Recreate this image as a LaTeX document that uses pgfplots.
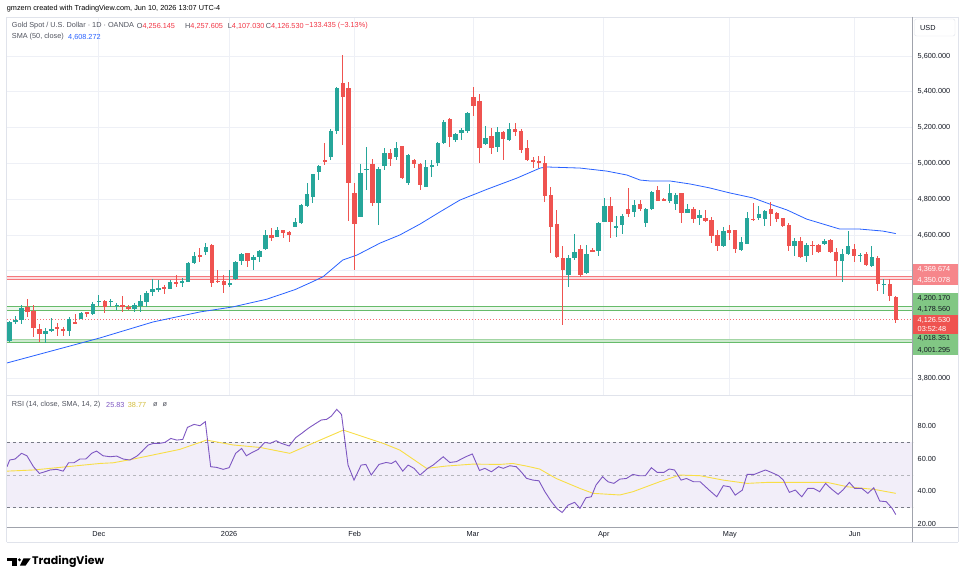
\documentclass[border=0pt]{standalone}
\usepackage{fontspec}
\setmainfont{Liberation Sans}
\newfontfamily\logofont{Poppins}
\usepackage{pgfplots}
\usepackage{pgfplotstable}
\usepgfplotslibrary{fillbetween}
\pgfplotsset{compat=1.18}

\definecolor{tvup}{RGB}{38,166,154}
\definecolor{tvdown}{RGB}{239,83,80}
\definecolor{tvred}{RGB}{242,54,69}
\definecolor{smablue}{RGB}{41,98,255}
\definecolor{rsipurple}{RGB}{126,87,194}
\definecolor{rsiyellow}{RGB}{248,222,70}
\definecolor{rsiband}{RGB}{242,238,249}
\definecolor{rsidash}{RGB}{120,123,134}
\definecolor{tvgrid}{RGB}{238,240,246}
\definecolor{tvframe}{RGB}{224,227,235}
\definecolor{tvaxis}{RGB}{160,163,172}
\definecolor{tvtext}{RGB}{19,23,34}
\definecolor{tvlegend}{RGB}{80,83,94}
\definecolor{hlred}{RGB}{245,120,125}
\definecolor{redfill}{RGB}{252,222,224}
\definecolor{hlgreen}{RGB}{102,187,106}
\definecolor{greenfill}{RGB}{205,233,206}
\definecolor{pinkbox}{RGB}{246,134,139}
\definecolor{greenbox}{RGB}{129,199,132}
\definecolor{obgreen}{RGB}{76,175,80}
\definecolor{dotred}{RGB}{246,110,118}

\newcommand\tvf{\fontsize{7.3bp}{9bp}\selectfont}

\pgfplotstableread{
i O H L C
0 4005 4118 4000 4112
1 4114 4145 4103 4125
2 4125 4209 4103 4192
6 4047 4082 3998 4064
7 4065 4136 4058 4076
10 4065 4142 4036 4132
12 4132 4172 4130 4164
14 4156 4224 4153 4214
15 4224 4264 4203 4233
17 4228 4242 4196 4231
18 4205 4222 4180 4210
21 4187 4222 4171 4209
22 4205 4264 4170 4231
23 4228 4287 4200 4278
24 4280 4354 4259 4298
25 4298 4346 4282 4302
27 4300 4347 4297 4337
29 4335 4358 4308 4342
30 4340 4451 4337 4446
31 4446 4503 4436 4483
33 4504 4553 4488 4535
37 4323 4404 4308 4332
38 4354 4457 4349 4449
39 4456 4501 4432 4494
41 4462 4488 4404 4477
42 4475 4516 4451 4511
43 4522 4628 4516 4598
45 4590 4646 4587 4628
48 4646 4697 4646 4672
49 4665 4775 4660 4765
50 4762 4892 4755 4830
51 4814 4941 4777 4939
52 4954 4990 4908 4987
54 5036 5190 5019 5181
55 5183 5428 5164 5421
59 4702 4995 4699 4948
60 4962 5093 4851 4970
62 4777 4978 4656 4967
63 4985 5087 4962 5056
65 5037 5120 5020 5084
67 4889 5050 4880 5045
70 4870 5019 4866 4982
71 4979 5017 4926 4991
72 5000 5121 4985 5112
73 5115 5240 5110 5230
75 5131 5170 5120 5164
76 5172 5200 5130 5187
77 5183 5285 5170 5283
80 5107 5209 5103 5141
82 5093 5205 5065 5177
84 5131 5223 5125 5192
94 4376 4490 4311 4473
95 4473 4606 4460 4503
97 4386 4546 4380 4494
99 4512 4675 4483 4669
100 4675 4807 4670 4762
102 4640 4705 4590 4653
103 4656 4715 4606 4706
105 4727 4795 4702 4767
107 4669 4749 4646 4744
108 4744 4847 4740 4842
111 4792 4887 4780 4833
112 4773 4833 4740 4823
114 4725 4773 4721 4744
116 4697 4740 4656 4711
120 4540 4646 4535 4622
123 4516 4590 4512 4559
124 4550 4727 4548 4693
126 4695 4761 4684 4717
127 4688 4740 4650 4734
132 4540 4585 4483 4566
134 4483 4553 4451 4544
137 4550 4575 4545 4568
140 4455 4520 4340 4494
141 4494 4620 4490 4540
143 4483 4501 4451 4488
145 4427 4540 4420 4475
147 4321 4352 4269 4326
}\uptab

\pgfplotstableread{
i O H L C
3 4200 4242 4143 4172
4 4175 4209 4032 4082
5 4075 4103 4004 4047
8 4088 4108 4036 4076
9 4075 4088 4036 4062
11 4114 4157 4103 4105
13 4167 4170 4142 4156
16 4231 4237 4166 4200
19 4209 4259 4170 4195
20 4200 4207 4181 4189
26 4307 4320 4272 4300
28 4340 4378 4308 4328
32 4486 4526 4451 4478
34 4544 4550 4308 4330
35 4345 4404 4330 4337
36 4345 4375 4278 4320
40 4500 4501 4423 4457
44 4598 4637 4568 4585
46 4628 4628 4581 4613
47 4618 4620 4562 4598
53 5017 5112 4991 5012
56 5449 5605 5103 5373
57 5421 5455 4680 4892
58 4833 4890 4404 4660
61 4997 5026 4764 4780
64 5060 5079 4985 5025
66 5097 5100 4912 4920
68 5019 5025 4973 4995
69 4997 5005 4851 4879
74 5248 5252 5093 5146
78 5369 5425 5265 5322
79 5349 5388 5000 5088
81 5153 5196 5052 5084
83 5177 5180 5020 5136
85 5192 5228 5153 5177
86 5183 5190 5060 5075
87 5084 5131 5015 5019
88 5017 5037 4973 5008
89 5013 5040 4973 5008
90 5004 5042 4786 4820
91 4823 4870 4501 4646
92 4661 4740 4470 4479
93 4473 4538 4097 4404
96 4521 4545 4367 4376
98 4515 4525 4505 4510
101 4762 4815 4584 4675
104 4744 4861 4702 4717
106 4773 4795 4734 4745
109 4851 4875 4788 4792
110 4801 4805 4788 4792
113 4833 4833 4669 4721
115 4744 4758 4665 4691
117 4697 4740 4675 4678
118 4684 4700 4553 4594
119 4598 4628 4512 4540
121 4628 4656 4573 4613
122 4628 4628 4501 4522
125 4690 4779 4680 4684
128 4744 4785 4650 4716
129 4725 4727 4674 4688
130 4693 4697 4645 4652
131 4656 4665 4512 4540
133 4566 4590 4470 4479
135 4544 4566 4488 4540
136 4544 4550 4500 4507
138 4572 4578 4500 4507
139 4507 4525 4371 4455
142 4522 4550 4451 4483
144 4494 4505 4425 4432
146 4473 4480 4286 4326
148 4326 4352 4232 4259
149 4256.145 4257.605 4107.03 4126.53
}\dntab

\begin{document}
\begin{tikzpicture}
\fill[white] (0bp,0bp) rectangle (964bp,582bp);

% ---------------- main price panel ----------------
\begin{axis}[
  at={(7bp,187bp)}, anchor=south west,
  width=906bp, height=378bp, scale only axis,
  xmin=-0.45, xmax=151.9, ymin=3706, ymax=5818,
  axis line style={draw=none},
  tick style={draw=none},
  xtick={15,36.9,58,77.9,99.9,121.1,142.1},
  xticklabels={,,,,,,},
  ytick={3800,4000,4200,4400,4600,4800,5000,5200,5400,5600},
  yticklabels={{3,800.000},{},{},{},{4,600.000},{4,800.000},{5,000.000},{5,200.000},{5,400.000},{5,600.000}},
  yticklabel pos=right,
  yticklabel style={anchor=west, inner sep=0pt, xshift=4.5bp, font=\tvf, text=tvtext},
  grid=major, grid style={draw=tvgrid, line width=0.8bp},
]
% horizontal level bands
\addplot[draw=none, fill=redfill] coordinates {(-0.45,4350.078) (151.9,4350.078) (151.9,4369.674) (-0.45,4369.674)};
\addplot[draw=none, fill=greenfill, fill opacity=0.35] coordinates {(-0.45,4178.56) (151.9,4178.56) (151.9,4200.17) (-0.45,4200.17)};
\addplot[draw=none, fill=greenfill] coordinates {(-0.45,4001.295) (151.9,4001.295) (151.9,4018.351) (-0.45,4018.351)};
\addplot[hlred, line width=1bp] coordinates {(-0.45,4369.674) (151.9,4369.674)};
\addplot[hlred, line width=1bp] coordinates {(-0.45,4350.078) (151.9,4350.078)};
\addplot[hlgreen, line width=1bp] coordinates {(-0.45,4200.17) (151.9,4200.17)};
\addplot[hlgreen, line width=1bp] coordinates {(-0.45,4178.56) (151.9,4178.56)};
\addplot[hlgreen!60, line width=1bp] coordinates {(-0.45,4018.351) (151.9,4018.351)};
\addplot[hlgreen, line width=1bp] coordinates {(-0.45,4001.295) (151.9,4001.295)};
\addplot[dotred, line width=0.9bp, dash pattern=on 1.3bp off 1.7bp] coordinates {(-0.45,4126.53) (151.9,4126.53)};
% SMA 50
\addplot[smablue, line width=0.8bp] coordinates {
(-0.45,3885) (15.2,4025) (24.1,4114) (32.0,4170) (37.5,4198) (43.2,4241) (48,4295) (51,4340) (52.7,4367)
(56.0,4460) (58.4,4488) (62.3,4555) (65.6,4600) (69.0,4661) (72.3,4728) (75.7,4795) (80.4,4857)
(85.3,4918) (89.2,4974) (90.3,4980) (95.9,4974) (100.4,4957) (103.8,4935) (106.0,4907) (107.6,4902)
(111.0,4902) (114.4,4885) (117.7,4863) (121.1,4835) (125,4807) (127.8,4773) (130.7,4740) (134.0,4689)
(136.2,4667) (139.6,4633) (143,4633) (146.8,4622) (149,4608)};
% wicks
\addplot[draw=none, mark=none, error bars/.cd, y dir=both, y explicit, error mark=none,
  error bar style={draw=tvup, line width=1bp, solid}]
  table[x=i, y expr={(\thisrow{H}+\thisrow{L})/2}, y error expr={(\thisrow{H}-\thisrow{L})/2}] {\uptab};
\addplot[draw=none, mark=none, error bars/.cd, y dir=both, y explicit, error mark=none,
  error bar style={draw=tvdown, line width=1bp, solid}]
  table[x=i, y expr={(\thisrow{H}+\thisrow{L})/2}, y error expr={(\thisrow{H}-\thisrow{L})/2}] {\dntab};
% bodies
\addplot[draw=none, mark=none, error bars/.cd, y dir=both, y explicit, error mark=none,
  error bar style={draw=tvup, line width=4.4bp, solid}]
  table[x=i, y expr={(\thisrow{O}+\thisrow{C})/2}, y error expr={max(abs(\thisrow{C}-\thisrow{O})/2,2.8)}] {\uptab};
\addplot[draw=none, mark=none, error bars/.cd, y dir=both, y explicit, error mark=none,
  error bar style={draw=tvdown, line width=4.4bp, solid}]
  table[x=i, y expr={(\thisrow{O}+\thisrow{C})/2}, y error expr={max(abs(\thisrow{C}-\thisrow{O})/2,2.8)}] {\dntab};
\end{axis}

% ---------------- RSI panel ----------------
\begin{axis}[
  at={(7bp,55bp)}, anchor=south west,
  width=906bp, height=132bp, scale only axis,
  xmin=-0.45, xmax=151.9, ymin=18.2, ymax=99,
  axis line style={draw=none},
  tick style={draw=none},
  xtick={15,36.9,58,77.9,99.9,121.1,142.1},
  xticklabels={Dec,2026,Feb,Mar,Apr,May,Jun},
  xticklabel style={anchor=north, inner sep=0pt, yshift=-4.5bp, font=\tvf, text=tvtext},
  ytick={20,40,60,80},
  yticklabels={20.00,40.00,60.00,80.00},
  yticklabel pos=right,
  yticklabel style={anchor=west, inner sep=0pt, xshift=4.5bp, font=\tvf, text=tvtext},
  grid=major, grid style={draw=tvgrid, line width=0.8bp},
]
\addplot[draw=none, fill=rsiband] coordinates {(-0.45,30) (151.9,30) (151.9,70) (-0.45,70)};
\addplot[rsidash, line width=0.8bp, dash pattern=on 3bp off 3bp] coordinates {(-0.45,70) (151.9,70)};
\addplot[rsidash, line width=0.8bp, dash pattern=on 3bp off 3bp] coordinates {(-0.45,30) (151.9,30)};
\addplot[rsidash!55, line width=0.8bp, dash pattern=on 3bp off 3bp] coordinates {(-0.45,50) (151.9,50)};
\addplot[draw=none, name path=r70] coordinates {(-0.45,70) (151.9,70)};
\addplot[draw=none, name path=rsi] coordinates {
(-0.45,55.1) (0,59.2) (0.9,59.8) (2.0,63.3) (2.9,61.8) (4.0,55.1) (5.0,51.0) (5.9,52.0) (6.8,53.1) (7.9,53.5)
(9.0,52.4) (9.9,57.5) (10.8,57.5) (11.8,59.8) (12.8,59.8) (13.8,63.3) (14.6,64.7) (15.7,61.8) (16.9,61.2)
(18.0,61.6) (19.1,59.8) (20.2,59.2) (21.4,61.6) (22.2,64.3) (23.3,68.4) (24.2,69.4) (25.2,69.4) (26.1,70.0)
(27.1,72.4) (28.1,71.4) (29.1,71.8) (29.9,79.2) (31.0,81.0) (32.0,80.2) (32.9,82.7) (33.8,55.1) (34.8,54.7)
(35.9,53.5) (36.9,54.5) (38.0,63.3) (39.0,66.3) (39.8,61.8) (40.8,63.9) (41.8,65.7) (42.9,70.0) (43.8,69.4)
(44.8,71.0) (45.7,69.4) (47.0,67.8) (48.1,72.9) (49.1,75.5) (50.2,78.6) (51.3,81.2) (52.4,83.7) (53.3,84.1)
(54.1,86.1) (55.0,90.2) (55.8,87.1) (56.9,56.1) (57.9,46.9) (59.1,56.1) (59.9,56.5) (60.8,50.0) (62.1,56.5)
(63.3,57.7) (64.2,57.1) (64.9,58.6) (66.1,52.4) (67.0,56.1) (68.0,54.1) (69.0,50.0) (70.3,54.1) (71.2,56.1)
(72.9,61.2) (74.0,57.7) (75.1,58.2) (76.7,61.2) (77.8,62.9) (79.0,52.8) (79.9,54.1) (81.0,52.0) (82.2,55.1)
(83.0,54.1) (84.1,55.7) (85.2,55.1) (86.1,51.6) (86.9,48.0) (88.0,46.9) (89.0,46.5) (90.0,39.8) (91.1,33.7)
(92.1,29.2) (92.9,27.1) (93.9,31.6) (95.0,33.3) (95.9,29.6) (96.9,36.1) (97.8,36.7) (98.6,43.9) (99.7,49.0)
(100.6,45.9) (101.6,44.9) (102.6,47.5) (103.7,47.9) (104.8,50.4) (105.8,49.6) (106.9,49.6) (107.9,54.5)
(108.9,51.6) (110.0,51.6) (110.9,53.7) (111.8,53.1) (112.9,46.9) (113.8,47.9) (115.0,45.9) (116.1,45.9)
(117.8,40.2) (118.9,36.7) (120.0,43.5) (121.1,42.8) (122.0,37.7) (123.2,40.8) (124.0,50.4) (125.2,50.4)
(126.3,52.0) (127.1,53.1) (128.1,51.6) (129.3,49.6) (130.1,46.9) (131.1,39.4) (132.1,40.8) (133.2,36.7)
(134.2,41.8) (135.2,41.8) (136.2,39.8) (137.2,44.9) (138.2,41.4) (139.3,38.2) (140.1,40.8) (141.2,45.5)
(142.1,41.8) (143.3,41.8) (144.3,38.8) (145.3,42.2) (146.3,34.1) (147.4,33.7) (148.4,29.6) (149.0,25.8)};
\pgfplotsinvokeforeach{70,72.5,75,77.5,80,82.5,85,87.5}{
  \addplot[draw=none, fill=obgreen, fill opacity=0.09] fill between[of=rsi and r70, soft clip={(axis cs:-1,#1) rectangle (axis cs:153,100)}];
}
% RSI SMA
\addplot[rsiyellow, line width=0.9bp] coordinates {
(-0.45,52.4) (4.0,53.1) (9.6,55.1) (15.2,57.1) (17.4,57.5) (20.8,59.8) (28.6,65.7) (33.1,71.4) (37.6,68.4)
(42.1,66.9) (47.1,63.3) (52.2,71.4) (56.1,77.5) (62.8,69.4) (65.6,65.3) (70.1,54.1) (73.4,55.5) (77.9,56.7)
(82.4,56.5) (84.6,57.1) (86.9,55.5) (89.1,53.7) (91.9,47.9) (95.9,41.8) (98.1,38.8) (102.6,37.8) (104.8,39.8)
(109.3,45.9) (112.7,50.0) (116.1,49.6) (120.0,46.9) (124.0,44.9) (127.4,45.5) (130.7,45.5) (137.5,45.5)
(140.9,42.8) (145.4,41.2) (149.0,38.8)};
% RSI line
\addplot[rsipurple, line width=0.9bp] coordinates {
(-0.45,55.1) (0,59.2) (0.9,59.8) (2.0,63.3) (2.9,61.8) (4.0,55.1) (5.0,51.0) (5.9,52.0) (6.8,53.1) (7.9,53.5)
(9.0,52.4) (9.9,57.5) (10.8,57.5) (11.8,59.8) (12.8,59.8) (13.8,63.3) (14.6,64.7) (15.7,61.8) (16.9,61.2)
(18.0,61.6) (19.1,59.8) (20.2,59.2) (21.4,61.6) (22.2,64.3) (23.3,68.4) (24.2,69.4) (25.2,69.4) (26.1,70.0)
(27.1,72.4) (28.1,71.4) (29.1,71.8) (29.9,79.2) (31.0,81.0) (32.0,80.2) (32.9,82.7) (33.8,55.1) (34.8,54.7)
(35.9,53.5) (36.9,54.5) (38.0,63.3) (39.0,66.3) (39.8,61.8) (40.8,63.9) (41.8,65.7) (42.9,70.0) (43.8,69.4)
(44.8,71.0) (45.7,69.4) (47.0,67.8) (48.1,72.9) (49.1,75.5) (50.2,78.6) (51.3,81.2) (52.4,83.7) (53.3,84.1)
(54.1,86.1) (55.0,90.2) (55.8,87.1) (56.9,56.1) (57.9,46.9) (59.1,56.1) (59.9,56.5) (60.8,50.0) (62.1,56.5)
(63.3,57.7) (64.2,57.1) (64.9,58.6) (66.1,52.4) (67.0,56.1) (68.0,54.1) (69.0,50.0) (70.3,54.1) (71.2,56.1)
(72.9,61.2) (74.0,57.7) (75.1,58.2) (76.7,61.2) (77.8,62.9) (79.0,52.8) (79.9,54.1) (81.0,52.0) (82.2,55.1)
(83.0,54.1) (84.1,55.7) (85.2,55.1) (86.1,51.6) (86.9,48.0) (88.0,46.9) (89.0,46.5) (90.0,39.8) (91.1,33.7)
(92.1,29.2) (92.9,27.1) (93.9,31.6) (95.0,33.3) (95.9,29.6) (96.9,36.1) (97.8,36.7) (98.6,43.9) (99.7,49.0)
(100.6,45.9) (101.6,44.9) (102.6,47.5) (103.7,47.9) (104.8,50.4) (105.8,49.6) (106.9,49.6) (107.9,54.5)
(108.9,51.6) (110.0,51.6) (110.9,53.7) (111.8,53.1) (112.9,46.9) (113.8,47.9) (115.0,45.9) (116.1,45.9)
(117.8,40.2) (118.9,36.7) (120.0,43.5) (121.1,42.8) (122.0,37.7) (123.2,40.8) (124.0,50.4) (125.2,50.4)
(126.3,52.0) (127.1,53.1) (128.1,51.6) (129.3,49.6) (130.1,46.9) (131.1,39.4) (132.1,40.8) (133.2,36.7)
(134.2,41.8) (135.2,41.8) (136.2,39.8) (137.2,44.9) (138.2,41.4) (139.3,38.2) (140.1,40.8) (141.2,45.5)
(142.1,41.8) (143.3,41.8) (144.3,38.8) (145.3,42.2) (146.3,34.1) (147.4,33.7) (148.4,29.6) (149.0,25.8)};
\end{axis}

% hide lower half of the 20.00 label
\fill[white] (913.5bp,41bp) rectangle (957.5bp,54.6bp);

% ---------------- frame ----------------
\draw[tvframe, line width=0.8bp] (6.7bp,565bp) -- (958bp,565bp);
\draw[tvframe, line width=0.8bp] (6.7bp,565bp) -- (6.7bp,40bp);
\draw[tvframe, line width=0.8bp] (958bp,565bp) -- (958bp,40bp);
\draw[tvframe, line width=0.8bp] (6.7bp,40bp) -- (958bp,40bp);
\draw[tvframe, line width=0.8bp] (6.7bp,187bp) -- (912.5bp,187bp);
\draw[tvaxis, line width=0.9bp] (6.7bp,55bp) -- (958bp,55bp);
\draw[tvaxis, line width=0.9bp] (912.5bp,565bp) -- (912.5bp,40bp);

% ---------------- price-scale labels ----------------
\begin{scope}[every node/.style={anchor=west, inner sep=0pt, font=\tvf}]
\fill[pinkbox] (912.9bp,296.7bp) rectangle (958bp,317.7bp);
\node[text=white] at (917.5bp,312.5bp) {4,369.674};
\node[text=white] at (917.5bp,302bp) {4,350.078};
\fill[greenbox] (912.9bp,267bp) rectangle (958bp,289.3bp);
\node[text=tvtext] at (917.5bp,284bp) {4,200.170};
\node[text=tvtext] at (917.5bp,273bp) {4,178.560};
\fill[tvdown] (912.9bp,247.8bp) rectangle (958bp,267bp);
\node[text=white] at (917.5bp,262bp) {4,126.530};
\node[text=white] at (917.5bp,253.5bp) {03:52:48};
\fill[greenbox] (912.9bp,227bp) rectangle (958bp,247.8bp);
\node[text=tvtext] at (917.5bp,243.3bp) {4,018.351};
\node[text=tvtext] at (917.5bp,232bp) {4,001.295};
\draw[tvframe, fill=white, rounded corners=2bp] (914.5bp,546bp) rectangle (955bp,563bp);
\node[text=tvtext] at (920bp,554.3bp) {USD};

% ---------------- legends ----------------
\node[text=black] at (6.7bp,573bp) {gmzern created with TradingView.com, Jun 10, 2026 13:07 UTC-4};
\node[text=tvlegend] at (11.7bp,556bp) {Gold Spot / U.S. Dollar · 1D · OANDA};
\node[text=tvlegend] at (136.7bp,556bp) {O\textcolor{tvred}{4,256.145}};
\node[text=tvlegend] at (185bp,556bp) {H\textcolor{tvred}{4,257.605}};
\node[text=tvlegend] at (227.7bp,556bp) {L\textcolor{tvred}{4,107.030}};
\node[text=tvlegend] at (265.7bp,556bp) {C\textcolor{tvred}{4,126.530}};
\node[text=tvred] at (305bp,556bp) {−133.435 (−3.13\%)};
\node[text=tvlegend] at (11.7bp,545bp) {SMA (50, close)};
\node[text=smablue] at (68bp,545bp) {4,608.272};
\node[text=tvlegend] at (11.7bp,177bp) {RSI (14, close, SMA, 14, 2)};
\node[text=rsipurple] at (106bp,177bp) {25.83};
\node[text=rsiyellow!85!black] at (127.7bp,177bp) {38.77};
\node[text=tvlegend] at (153bp,177bp) {ø};
\node[text=tvlegend] at (162.3bp,177bp) {ø};
\end{scope}

% ---------------- logo ----------------
\fill[black] (6.7bp,23.7bp) rectangle (16.7bp,20.7bp);
\fill[black] (12bp,20.7bp) rectangle (16.7bp,16.3bp);
\fill[black] (19.4bp,22.2bp) circle (1.6bp);
\fill[black] (23.5bp,23.7bp) -- (30.7bp,23.7bp) -- (25.5bp,16.3bp) -- (19.8bp,16.3bp) -- cycle;
\node[anchor=west, inner sep=0pt, font=\logofont\bfseries\fontsize{11bp}{12bp}\selectfont] at (32bp,20bp) {TradingView};
\end{tikzpicture}
\end{document}
